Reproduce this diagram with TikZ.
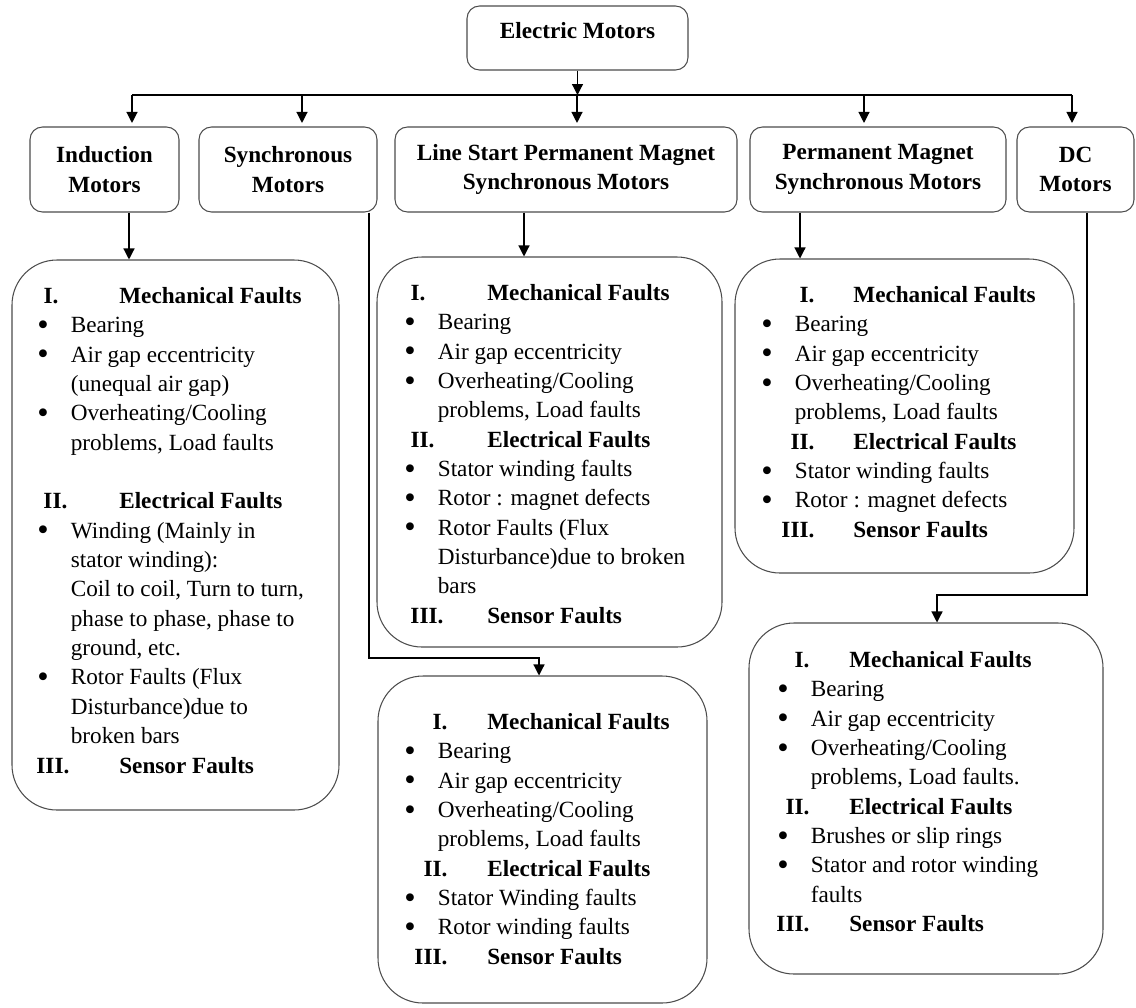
\documentclass[tikz,border=0pt]{standalone}
\usepackage{fontspec}
\usepackage{graphicx}
\setmainfont{Liberation Serif}
\usetikzlibrary{arrows.meta,positioning}
\newlength{\bulw}
\setlength{\bulw}{0.67cm}
\newcommand{\txt}{\fontsize{13.2pt}{16.7pt}\selectfont}
\newcommand{\itm}[1]{\makebox[\bulw][l]{\raisebox{-0.25ex}{\scalebox{1.4}{\textbullet}}}#1}
\newcommand{\cnt}[1]{\hspace*{\bulw}#1}
\newcommand{\hd}[4]{\makebox[#1][l]{\makebox[#2][r]{\textbf{#3}}}\textbf{#4}}
\tikzset{
  motor/.style={draw=black!70, line width=0.6pt, rounded corners=2.5mm,
    align=center, font=\txt\bfseries, inner sep=0pt},
  faultbox/.style={draw=black!70, line width=0.6pt, rounded corners=9mm, inner sep=0pt},
  faultlist/.style={anchor=north west, align=left, inner sep=0pt, font=\txt},
  flow/.style={-{Triangle[length=2.2mm, width=2.2mm]}, line width=0.7pt},
}
\begin{document}
\begin{tikzpicture}
\useasboundingbox (0,0) rectangle (22.72,-20.14);

% The root and the five motor families.
\node[motor, minimum width=4.42cm, minimum height=1.28cm, text height=0.3cm, text depth=0.3cm]
  (motors) at (11.55,-0.76) {Electric Motors};
\node[motor, minimum width=2.98cm, minimum height=1.7cm] (ind) at (2.09,-3.39) {Induction\\Motors};
\node[motor, minimum width=3.56cm, minimum height=1.7cm] (syn) at (5.76,-3.39) {Synchronous\\Motors};
\node[motor, minimum width=6.84cm, minimum height=1.7cm] (lspm) at (11.32,-3.39)
  {Line Start Permanent Magnet\\Synchronous Motors};
\node[motor, minimum width=5.12cm, minimum height=1.7cm] (pmsm) at (17.56,-3.39)
  {Permanent Magnet\\Synchronous Motors};
\node[motor, minimum width=2.34cm, minimum height=1.7cm] (dc) at (21.51,-3.39) {DC\\Motors};

\coordinate (b1) at (2.64,-1.90);
\coordinate (b2) at (6.04,-1.90);
\coordinate (b3) at (11.54,-1.90);
\coordinate (b4) at (17.28,-1.90);
\coordinate (b5) at (21.44,-1.90);
\draw[line width=0.9pt] (b1) -- (b5);
\draw[flow] (motors) -- (motors.south |- b3);
\draw[flow, shorten >=2pt] (b1) -- (b1 |- ind.north);
\draw[flow, shorten >=2pt] (b2) -- (b2 |- syn.north);
\draw[flow, shorten >=2pt] (b3) -- (b3 |- lspm.north);
\draw[flow, shorten >=2pt] (b4) -- (b4 |- pmsm.north);
\draw[flow, shorten >=2pt] (b5) -- (b5 |- dc.north);

% The fault boxes.
\node[faultbox, minimum width=6.54cm, minimum height=11.0cm] (indF) at (3.51,-10.70) {};
\node[faultbox, minimum width=6.9cm, minimum height=7.8cm] (lspmF) at (10.99,-9.04) {};
\node[faultbox, minimum width=6.58cm, minimum height=6.54cm] (synF) at (10.85,-16.79) {};
\node[faultbox, minimum width=6.78cm, minimum height=6.28cm] (pmsmF) at (18.09,-8.32) {};
\node[faultbox, minimum width=7.08cm, minimum height=7.02cm] (dcF) at (18.52,-15.97) {};

\coordinate (synbend) at (10.78,-13.16);
\coordinate (dcbend) at (18.74,-11.90);
\draw[flow] ([xshift=4.9mm]ind.south) -- ([xshift=4.9mm]ind.south |- indF.north);
\draw[flow] ([xshift=16.2mm]syn.south) |- (synbend) -- (synbend |- synF.north);
\draw[flow] ([xshift=-8.4mm]lspm.south) -- ([xshift=-8.4mm]lspm.south |- lspmF.north);
\draw[flow] ([xshift=-15.6mm]pmsm.south) -- ([xshift=-15.6mm]pmsm.south |- pmsmF.north);
\draw[flow] ([xshift=2.3mm]dc.south) |- (dcbend) -- (dcbend |- dcF.north);

% Lists of faults, one per family.
\node[faultlist] (indL) at (0.74,-5.74) {%
  \hd{1.64cm}{0.42cm}{I.}{Mechanical Faults}\\
  \itm{Bearing}\\
  \itm{Air gap eccentricity}\\
  \cnt{(unequal air gap)}\\
  \itm{Overheating/Cooling}\\
  \cnt{problems, Load faults}\\
  \mbox{}\\
  \hd{1.64cm}{0.60cm}{II.}{Electrical Faults}\\
  \itm{Winding (Mainly in}\\
  \cnt{stator winding):}\\
  \cnt{Coil to coil, Turn to turn,}\\
  \cnt{phase to phase, phase to}\\
  \cnt{ground, etc.}\\
  \itm{Rotor Faults (Flux}\\
  \cnt{Disturbance)due to}\\
  \cnt{broken bars}\\
  \hd{1.64cm}{0.64cm}{III.}{Sensor Faults}};
\node[faultlist] (lspmL) at (8.08,-5.68) {%
  \hd{1.66cm}{0.42cm}{I.}{Mechanical Faults}\\
  \itm{Bearing}\\
  \itm{Air gap eccentricity}\\
  \itm{Overheating/Cooling}\\
  \cnt{problems, Load faults}\\
  \hd{1.66cm}{0.60cm}{II.}{Electrical Faults}\\
  \itm{Stator winding faults}\\
  \itm{Rotor : magnet defects}\\
  \itm{Rotor Faults (Flux}\\
  \cnt{Disturbance)due to broken}\\
  \cnt{bars}\\
  \hd{1.66cm}{0.78cm}{III.}{Sensor Faults}};
\node[faultlist] (synL) at (8.08,-14.26) {%
  \hd{1.66cm}{0.86cm}{I.}{Mechanical Faults}\\
  \itm{Bearing}\\
  \itm{Air gap eccentricity}\\
  \itm{Overheating/Cooling}\\
  \cnt{problems, Load faults}\\
  \hd{1.66cm}{0.86cm}{II.}{Electrical Faults}\\
  \itm{Stator Winding faults}\\
  \itm{Rotor winding faults}\\
  \hd{1.66cm}{0.86cm}{III.}{Sensor Faults}};
\node[faultlist] (pmsmL) at (15.22,-5.72) {%
  \hd{1.84cm}{1.06cm}{I.}{Mechanical Faults}\\
  \itm{Bearing}\\
  \itm{Air gap eccentricity}\\
  \itm{Overheating/Cooling}\\
  \cnt{problems, Load faults}\\
  \hd{1.84cm}{1.06cm}{II.}{Electrical Faults}\\
  \itm{Stator winding faults}\\
  \itm{Rotor : magnet defects}\\
  \hd{1.84cm}{1.06cm}{III.}{Sensor Faults}};
\node[faultlist] (dcL) at (15.54,-13.02) {%
  \hd{1.44cm}{0.64cm}{I.}{Mechanical Faults}\\
  \itm{Bearing}\\
  \itm{Air gap eccentricity}\\
  \itm{Overheating/Cooling}\\
  \cnt{problems, Load faults.}\\
  \hd{1.44cm}{0.64cm}{II.}{Electrical Faults}\\
  \itm{Brushes or slip rings}\\
  \itm{Stator and rotor winding}\\
  \cnt{faults}\\
  \hd{1.44cm}{0.64cm}{III.}{Sensor Faults}};

\end{tikzpicture}
\end{document}
